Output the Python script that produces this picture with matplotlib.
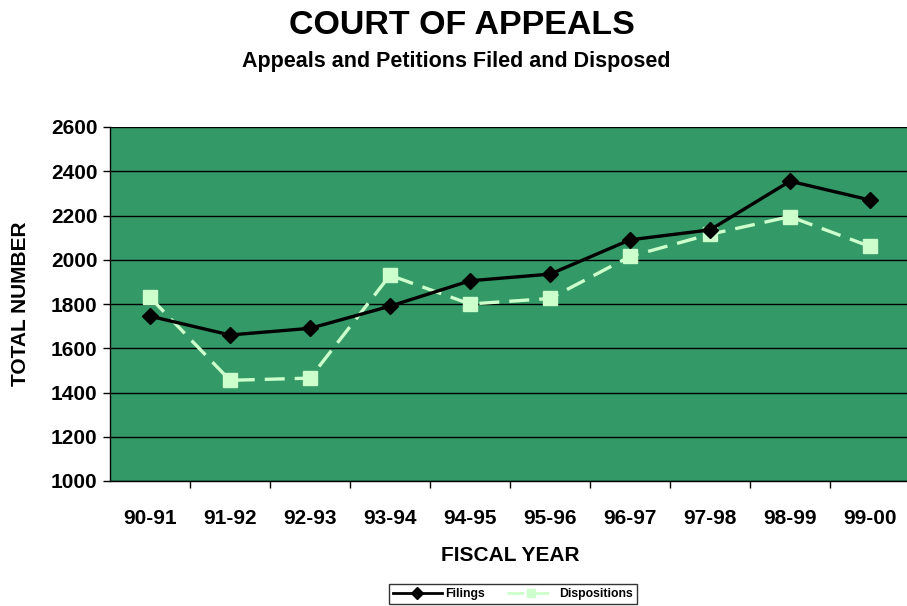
import matplotlib
matplotlib.use("Agg")
import matplotlib.pyplot as plt

years = ["90-91", "91-92", "92-93", "93-94", "94-95", "95-96", "96-97", "97-98", "98-99", "99-00"]
filings = [1745, 1660, 1690, 1790, 1905, 1935, 2090, 2135, 2355, 2270]
dispositions = [1830, 1455, 1465, 1930, 1800, 1825, 2015, 2115, 2195, 2060]
yticks = [1000, 1200, 1400, 1600, 1800, 2000, 2200, 2400, 2600]

plt.rcParams['font.family'] = ['Liberation Sans', 'DejaVu Sans']
fig = plt.figure(figsize=(9.07, 6.06), dpi=100)
W, H = 907, 606
ax = fig.add_axes([110 / W, 125 / H, 800 / W, 354 / H])
ax.set_facecolor('#339966')

x = list(range(len(years)))
ax.plot(x, filings, color='black', lw=2.4, marker='D', ms=8, mfc='black', mec='black',
        label='Filings', zorder=4)
ax.plot(x, dispositions, color='#ccffcc', lw=2.4, dashes=(6, 3), marker='s', ms=10,
        mfc='#ccffcc', mec='#ccffcc', label='Dispositions', zorder=3)

ax.set_xlim(-0.5, len(years) - 0.5)
ax.set_ylim(1000, 2600)
ax.set_yticks(yticks)
ax.set_yticklabels([str(v) for v in yticks], fontsize=15, fontweight='bold')
ax.set_xticks(x)
ax.set_xticklabels(years, fontsize=15, fontweight='bold')
ax.set_xticks([i + 0.5 for i in x[:-1]], minor=True)
ax.tick_params(axis='x', which='major', length=0, pad=20)
ax.tick_params(axis='x', which='minor', length=5, width=1, color='black')
ax.tick_params(axis='y', length=5, width=1, color='black', pad=4)
ax.grid(axis='y', color='black', lw=1)
ax.set_axisbelow(True)
for s in ['top', 'right']:
    ax.spines[s].set_visible(False)
ax.spines['left'].set_color('black')
ax.spines['bottom'].set_color('black')
ax.spines['left'].set_linewidth(1)
ax.spines['bottom'].set_linewidth(1)

ax.set_ylabel('TOTAL NUMBER', fontsize=15, fontweight='bold', labelpad=15)
ax.set_xlabel('FISCAL YEAR', fontsize=15, fontweight='bold', labelpad=13)

fig.text(462 / W, 1 - 26 / H, 'COURT OF APPEALS', ha='center', va='center',
         fontsize=24.5, fontweight='bold')
fig.text(456 / W, 1 - 62 / H, 'Appeals and Petitions Filed and Disposed', ha='center',
         va='center', fontsize=15.5, fontweight='bold')

leg = fig.legend(loc='center', bbox_to_anchor=(513 / W, 1 - 594 / H), ncol=2,
                 frameon=True, fancybox=False, edgecolor='black',
                 prop={'weight': 'bold', 'size': 8.8}, handlelength=4.0,
                 columnspacing=1.8, borderpad=0.3, handletextpad=0.3)
leg.get_frame().set_linewidth(1)
for h in leg.legend_handles:
    h.set_markersize(6)
    h.set_linewidth(2)

fig.savefig('out.png', dpi=100)
